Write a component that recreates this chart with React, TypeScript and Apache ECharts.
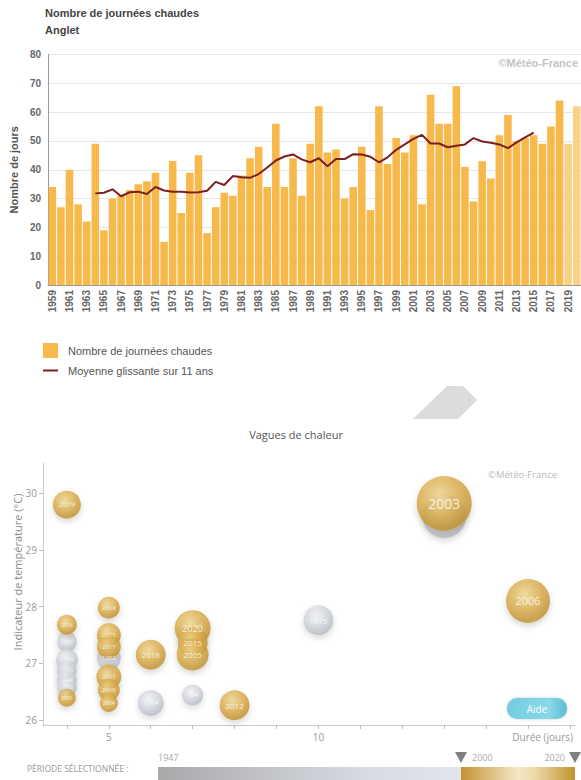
import React, { useEffect, useRef } from "react";
import * as echarts from "echarts";

// ---------- Top chart data ----------
const years = [
  "1959", "1960", "1961", "1962", "1963", "1964", "1965", "1966", "1967", "1968",
  "1969", "1970", "1971", "1972", "1973", "1974", "1975", "1976", "1977", "1978",
  "1979", "1980", "1981", "1982", "1983", "1984", "1985", "1986", "1987", "1988",
  "1989", "1990", "1991", "1992", "1993", "1994", "1995", "1996", "1997", "1998",
  "1999", "2000", "2001", "2002", "2003", "2004", "2005", "2006", "2007", "2008",
  "2009", "2010", "2011", "2012", "2013", "2014", "2015", "2016", "2017", "2018",
  "2019", "2020",
];
const hotDays = [
  34, 27, 40, 28, 22, 49, 19, 30, 31, 33,
  35, 36, 39, 15, 43, 25, 39, 45, 18, 27,
  32, 31, 38, 44, 48, 34, 56, 34, 44, 31,
  49, 62, 46, 47, 30, 34, 48, 26, 62, 42,
  51, 46, 52, 28, 66, 56, 56, 69, 41, 29,
  43, 37, 52, 59, 50, 51, 52, 49, 55, 64,
  49, 62,
];
const provisionalYears = ["2019", "2020"];
const movingAvg = [
  null, null, null, null, null, 31.8, 32.0, 33.2, 30.8, 32.2,
  32.4, 31.6, 34.0, 32.8, 32.4, 32.4, 32.1, 32.2, 32.7, 35.8,
  34.7, 37.8, 37.4, 37.2, 38.5, 40.8, 43.2, 44.6, 45.3, 43.6,
  42.6, 44.0, 41.2, 43.7, 43.7, 45.4, 45.3, 44.5, 42.6, 44.3,
  46.9, 48.8, 50.7, 52.1, 49.1, 49.1, 47.8, 48.3, 48.8, 51.0,
  49.8, 49.4, 48.8, 47.5, 49.5, 51.2, 52.9, null, null, null,
  null, null,
];

// ---------- Bubble chart data ----------
// grey = heat waves outside the selected period
const greyYears = ["1975", "1976", "1947", "1983", "1990", "1949", "1976", "1982", "1964", "1994"];
const greyDurations = [10, 13, 4, 4, 4, 4, 4, 5, 6, 7];
const greyTemps = [27.76, 29.6, 27.38, 27.06, 26.88, 26.71, 26.58, 27.09, 26.3, 26.44];
const greySizes = [30, 44, 20, 22, 20, 20, 20, 24, 26, 21];
const greyLabelHidden = ["1976"];
// gold = heat waves inside the selected period (2000-2020)
const goldYears = ["2003", "2019", "2006", "2020", "2015", "2005", "2018", "2012", "2016", "2001", "2009", "2015", "2017", "2011", "2010", "2004"];
const goldDurations = [13, 4, 15, 7, 7, 7, 6, 8, 4, 4, 5, 5, 5, 5, 5, 5];
const goldTemps = [29.82, 29.8, 28.1, 27.62, 27.36, 27.15, 27.15, 26.26, 27.68, 26.39, 27.98, 27.5, 27.29, 26.76, 26.53, 26.3];
const goldSizes = [55, 28, 44, 36, 30, 32, 30, 30, 20, 18, 22, 24, 24, 25, 22, 18];

const durationTicks = [4, 5, 6, 7, 8, 9, 10, 11, 12, 13, 14, 15, 16];
const durationLabels = [5, 10];
const tempTicks = [26, 27, 28, 29, 30];

const ARIAL = "Liberation Sans, Arial, sans-serif";
const SANS = "Open Sans, Noto Sans, sans-serif";

function goldFill() {
  return new echarts.graphic.RadialGradient(0.42, 0.35, 0.7, [
    { offset: 0, color: "#f0d68e" },
    { offset: 0.55, color: "#d8a843" },
    { offset: 0.9, color: "#bf8e2c" },
    { offset: 1, color: "#d9bd7a" },
  ]);
}
function greyFill() {
  return new echarts.graphic.RadialGradient(0.42, 0.35, 0.7, [
    { offset: 0, color: "#f1f2f5" },
    { offset: 0.6, color: "#ccd0d7" },
    { offset: 1, color: "#aeb3bb" },
  ]);
}

function bubbleData(ys: string[], ds: number[], ts: number[], ss: number[], hidden: string[] = []) {
  return ys.map((y, i) => ({
    value: [ds[i], ts[i], y],
    symbolSize: ss[i],
    label: { show: !(hidden.includes(y) && ds[i] === 13), fontSize: Math.max(5, Math.round(ss[i] / 3.9)) },
  }));
}

export default function App() {
  const ref = useRef<HTMLDivElement>(null);
  useEffect(() => {
    if (!ref.current) return;
    const chart = echarts.init(ref.current, undefined, { renderer: "svg" });
    const option: any = {
      animation: false,
      textStyle: { fontFamily: ARIAL },
      grid: [
        { left: 43, top: 54.5, width: 540, height: 230.5 },
        { left: 43, top: 463, width: 532, height: 262 },
      ],
      xAxis: [
        {
          type: "category",
          gridIndex: 0,
          data: years,
          axisLine: { lineStyle: { color: "#999" } },
          axisTick: { show: false },
          axisLabel: { rotate: 90, interval: 1, fontWeight: "bold", fontSize: 10, color: "#666", margin: 5, fontFamily: ARIAL },
        },
        {
          type: "value",
          gridIndex: 1,
          min: 3.43,
          max: 16.12,
          splitLine: { show: false },
          axisLine: { show: true, lineStyle: { color: "#c9c9c9" } },
          axisTick: { show: true, customValues: durationTicks, length: 4, lineStyle: { color: "#bbb" } },
          axisLabel: { customValues: durationLabels, color: "#999", fontSize: 10, fontFamily: SANS, margin: 7 },
        },
      ],
      yAxis: [
        {
          type: "value",
          gridIndex: 0,
          min: 0,
          max: 80,
          interval: 10,
          axisLine: { show: true, lineStyle: { color: "#999" } },
          axisTick: { show: false },
          splitLine: { lineStyle: { color: "#e6e6e6" } },
          axisLabel: { fontWeight: "bold", fontSize: 10, color: "#666", margin: 7, fontFamily: ARIAL },
          name: "Nombre de jours",
          nameLocation: "middle",
          nameGap: 24,
          nameTextStyle: { fontWeight: "bold", fontSize: 11, color: "#555", fontFamily: ARIAL },
        },
        {
          type: "value",
          gridIndex: 1,
          min: 25.91,
          max: 30.535,
          splitLine: { show: false },
          axisLine: { show: true, lineStyle: { color: "#c9c9c9" } },
          axisTick: { show: true, customValues: tempTicks, length: 4, lineStyle: { color: "#bbb" } },
          axisLabel: { customValues: tempTicks, color: "#999", fontSize: 10, fontFamily: SANS, margin: 6 },
        },
      ],
      series: [
        {
          type: "bar",
          xAxisIndex: 0,
          yAxisIndex: 0,
          barCategoryGap: "12%",
          itemStyle: { color: "#f8b94c" },
          data: hotDays.map((v, i) =>
            provisionalYears.includes(years[i]) ? { value: v, itemStyle: { color: "#fad285" } } : v
          ),
          silent: true,
        },
        {
          type: "line",
          xAxisIndex: 0,
          yAxisIndex: 0,
          data: movingAvg,
          showSymbol: false,
          lineStyle: { color: "#7b1f1f", width: 2 },
          itemStyle: { color: "#7b1f1f" },
          silent: true,
        },
        {
          type: "scatter",
          xAxisIndex: 1,
          yAxisIndex: 1,
          data: bubbleData(greyYears, greyDurations, greyTemps, greySizes, greyLabelHidden),
          itemStyle: { color: greyFill(), shadowBlur: 6, shadowColor: "rgba(0,0,0,0.18)", shadowOffsetY: 3 },
          label: { show: true, position: "inside", color: "#fff", fontFamily: SANS, formatter: (p: any) => p.value[2] },
          silent: true,
        },
        {
          type: "scatter",
          xAxisIndex: 1,
          yAxisIndex: 1,
          data: bubbleData(goldYears, goldDurations, goldTemps, goldSizes),
          itemStyle: { color: goldFill(), shadowBlur: 6, shadowColor: "rgba(0,0,0,0.2)", shadowOffsetY: 3 },
          label: { show: true, position: "inside", color: "#fff", fontFamily: SANS, formatter: (p: any) => p.value[2] },
          silent: true,
        },
      ],
      graphic: [
        // top chart title
        { type: "text", x: 45, y: 13, style: { text: "Nombre de journées chaudes", fill: "#444", fontSize: 11, fontWeight: "bold", fontFamily: ARIAL, textVerticalAlign: "middle" } },
        { type: "text", x: 45, y: 30, style: { text: "Anglet", fill: "#444", fontSize: 11, fontWeight: "bold", fontFamily: ARIAL, textVerticalAlign: "middle" } },
        { type: "text", x: 578, y: 63, style: { text: "©Météo-France", fill: "#c4c4c4", fontSize: 11, fontWeight: "bold", fontFamily: ARIAL, textAlign: "right", textVerticalAlign: "middle" } },
        // legend
        { type: "rect", shape: { x: 43, y: 343, width: 15, height: 15 }, style: { fill: "#f8b94c" } },
        { type: "text", x: 68, y: 351, style: { text: "Nombre de journées chaudes", fill: "#555", fontSize: 11, fontFamily: ARIAL, textVerticalAlign: "middle" } },
        { type: "line", shape: { x1: 43, y1: 370.5, x2: 58, y2: 370.5 }, style: { stroke: "#7b1f1f", lineWidth: 2 } },
        { type: "text", x: 68, y: 371, style: { text: "Moyenne glissante sur 11 ans", fill: "#555", fontSize: 11, fontFamily: ARIAL, textVerticalAlign: "middle" } },
        // grey decorative shape
        { type: "polygon", shape: { points: [[413, 419], [447, 386], [463, 386], [477, 400], [458, 419]] }, style: { fill: "#dcdcdc" } },
        // bubble chart texts
        { type: "text", x: 296, y: 434, style: { text: "Vagues de chaleur", fill: "#555", fontSize: 11, fontFamily: SANS, textAlign: "center", textVerticalAlign: "middle" } },
        { type: "text", x: 488, y: 474, style: { text: "©Météo-France", fill: "#bbb", fontSize: 9.5, fontFamily: SANS, textVerticalAlign: "middle" } },
        { type: "text", x: 17, y: 572, rotation: Math.PI / 2, style: { text: "Indicateur de température (°C)", fill: "#888", fontSize: 11, fontFamily: SANS, textAlign: "center", textVerticalAlign: "middle" } },
        { type: "text", x: 573, y: 737, style: { text: "Durée (jours)", fill: "#999", fontSize: 10, fontFamily: SANS, textAlign: "right", textVerticalAlign: "middle" } },
        // Aide button
        {
          type: "rect",
          shape: { x: 507, y: 698, width: 60, height: 21, r: 10 },
          style: {
            fill: new echarts.graphic.LinearGradient(0, 0, 1, 0, [
              { offset: 0, color: "#72cde0" },
              { offset: 0.7, color: "#8ad8e8" },
              { offset: 1, color: "#5dbcd4" },
            ]),
            shadowBlur: 3,
            shadowColor: "rgba(0,0,0,0.2)",
          },
        },
        { type: "text", x: 537, y: 709, style: { text: "Aide", fill: "#fff", fontSize: 10, fontFamily: SANS, textAlign: "center", textVerticalAlign: "middle" } },
        // period slider
        { type: "text", x: 27, y: 768, style: { text: "PÉRIODE SÉLECTIONNÉE :", fill: "#999", fontSize: 8.5, fontFamily: SANS, textVerticalAlign: "middle" } },
        { type: "text", x: 158, y: 757, style: { text: "1947", fill: "#aaa", fontSize: 9, fontFamily: SANS, textVerticalAlign: "middle" } },
        {
          type: "rect",
          shape: { x: 158, y: 767, width: 303, height: 13 },
          style: {
            fill: new echarts.graphic.LinearGradient(0, 0, 1, 0, [
              { offset: 0, color: "#a9a9ab" },
              { offset: 0.7, color: "#d8dce3" },
              { offset: 1, color: "#e2e5eb" },
            ]),
          },
        },
        {
          type: "rect",
          shape: { x: 461, y: 767, width: 114, height: 13 },
          style: {
            fill: new echarts.graphic.LinearGradient(0, 0, 1, 0, [
              { offset: 0, color: "#c39431" },
              { offset: 0.5, color: "#f4e8c8" },
              { offset: 0.65, color: "#ecd9a6" },
              { offset: 1, color: "#c39431" },
            ]),
          },
        },
        { type: "polygon", shape: { points: [[455, 752], [467, 752], [461, 763]] }, style: { fill: "#7f7f7f" } },
        { type: "polygon", shape: { points: [[569, 752], [581, 752], [575, 763]] }, style: { fill: "#7f7f7f" } },
        { type: "text", x: 472, y: 757, style: { text: "2000", fill: "#aaa", fontSize: 9, fontFamily: SANS, textVerticalAlign: "middle" } },
        { type: "text", x: 565, y: 757, style: { text: "2020", fill: "#aaa", fontSize: 9, fontFamily: SANS, textAlign: "right", textVerticalAlign: "middle" } },
      ],
    };
    chart.setOption(option);
    return () => chart.dispose();
  }, []);
  return <div ref={ref} style={{ position: "absolute", left: 0, top: 0, width: 581, height: 780 }} />;
}
